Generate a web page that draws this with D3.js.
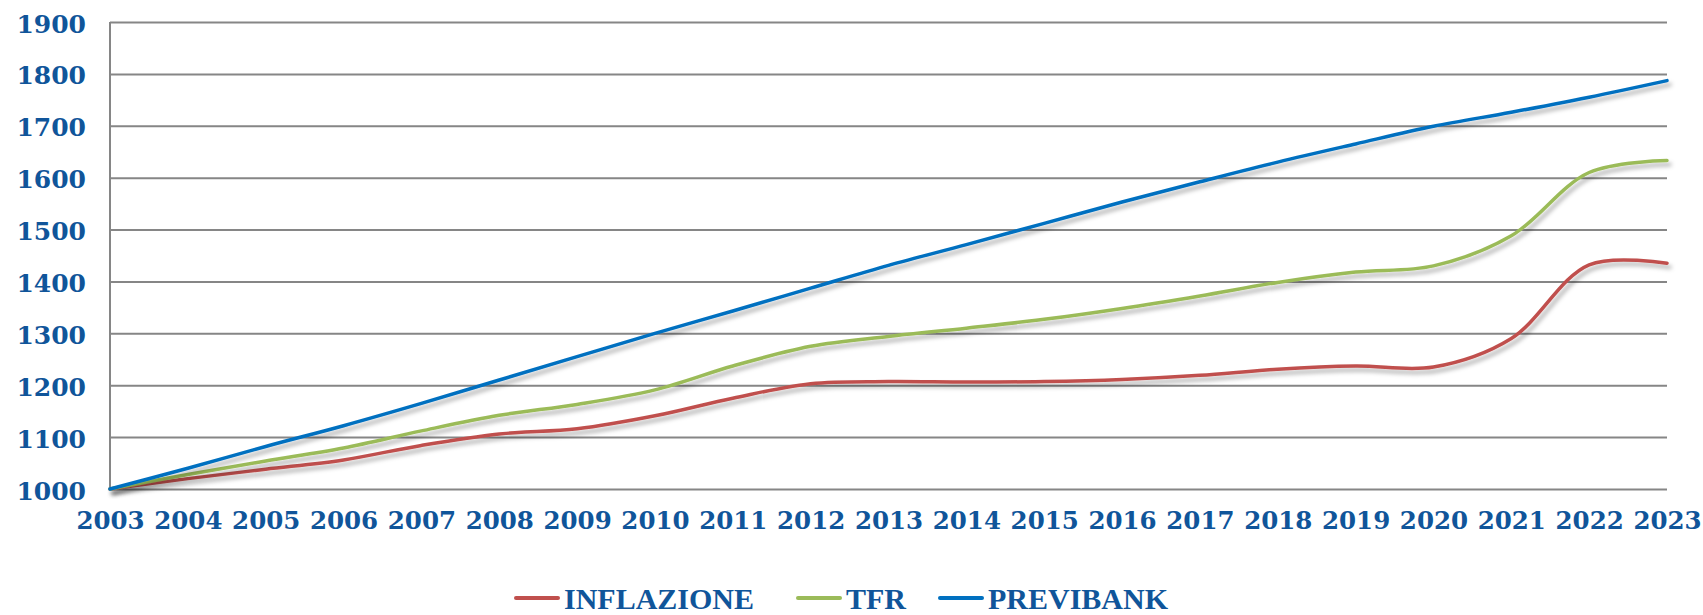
<!DOCTYPE html>
<html>
<head>
<meta charset="utf-8">
<script src="https://cdn.jsdelivr.net/npm/d3@7"></script>
<style>
    body { margin: 0; background: #ffffff; }
    svg { display: block; }
</style>
</head>
<body>
<div id="chart"></div>
<script>
"use strict"

//years on the x axis
const years = [2003, 2004, 2005, 2006, 2007, 2008, 2009, 2010, 2011, 2012, 2013,
    2014, 2015, 2016, 2017, 2018, 2019, 2020, 2021, 2022, 2023];

//values, 1000 invested in 2003
const inflazione = [1000, 1020, 1038, 1056, 1084, 1106, 1116, 1141, 1175, 1203, 1207,
    1206, 1207, 1211, 1219, 1231, 1237, 1235, 1290, 1432, 1435];
const tfr = [1000, 1028, 1054, 1079, 1112, 1142, 1163, 1191, 1237, 1275, 1294,
    1310, 1327, 1348, 1372, 1398, 1418, 1430, 1488, 1610, 1633];
const previbank = [1000, 1040, 1082, 1122, 1165, 1210, 1255, 1300, 1343, 1387, 1431,
    1471, 1512, 1553, 1592, 1630, 1665, 1699, 1726, 1755, 1787];

//y ticks
const y_ticks = [1000, 1100, 1200, 1300, 1400, 1500, 1600, 1700, 1800, 1900];

//series names and colors
const series_names = ['INFLAZIONE', 'TFR', 'PREVIBANK'];
const series_colors = ['#c0504d', '#9bbb59', '#0070c0'];

class LineChart {

    constructor(div_id) {
        let parent = this;

        parent.width = 1703;
        parent.height = 615;

        //plot area
        parent.left = 110;
        parent.right = 1667;
        parent.top = 22;
        parent.bottom = 489;

        parent.text_color = '#10559a';
        parent.grid_color = '#868686';

        parent.svg = d3.select('#' + div_id)
            .append('svg')
            .attr('width', parent.width)
            .attr('height', parent.height);
    }

    init(parent) {
        parent.x = d3.scalePoint()
            .domain(years)
            .range([parent.left, parent.right]);

        parent.y = d3.scaleLinear()
            .domain([1000, 1900])
            .range([parent.bottom, parent.top]);

        parent.make_shadow(parent);
        parent.draw_grid(parent);
        parent.draw_lines(parent);
        parent.draw_legend(parent);
    }

    //soft grey shadow under the lines, like the office chart
    make_shadow(parent) {
        const filter = parent.svg.append('defs')
            .append('filter')
            .attr('id', 'line_shadow')
            .attr('x', '-5%').attr('y', '-20%')
            .attr('width', '110%').attr('height', '140%');

        filter.append('feDropShadow')
            .attr('dx', 3)
            .attr('dy', 4)
            .attr('stdDeviation', 2.2)
            .attr('flood-color', '#000000')
            .attr('flood-opacity', 0.3);
    }

    draw_grid(parent) {
        //horizontal gridlines + y labels
        const y_axis = parent.svg.append('g')
            .attr('transform', 'translate(' + parent.left + ',0)')
            .call(d3.axisLeft(parent.y)
                .tickValues(y_ticks)
                .tickSize(-(parent.right - parent.left))
                .tickPadding(24)
                .tickFormat(d3.format('d')));

        y_axis.select('.domain').remove();
        y_axis.selectAll('.tick line')
            .attr('stroke', parent.grid_color)
            .attr('stroke-width', 2);
        y_axis.selectAll('.tick text')
            .attr('fill', parent.text_color)
            .attr('font-family', '"DejaVu Serif", serif')
            .attr('font-weight', 'bold')
            .attr('font-size', 25)
            .attr('dy', '0.4em');

        //vertical axis line on the left
        parent.svg.append('line')
            .attr('x1', parent.left).attr('x2', parent.left)
            .attr('y1', parent.y(1900)).attr('y2', parent.y(1000))
            .attr('stroke', parent.grid_color)
            .attr('stroke-width', 2);

        //x labels, no tick marks
        const x_axis = parent.svg.append('g')
            .attr('transform', 'translate(0,' + parent.bottom + ')')
            .call(d3.axisBottom(parent.x).tickSize(0).tickPadding(23));

        x_axis.select('.domain').remove();
        x_axis.selectAll('.tick text')
            .attr('fill', parent.text_color)
            .attr('font-family', '"DejaVu Serif", serif')
            .attr('font-weight', 'bold')
            .attr('font-size', 24.5);
    }

    draw_lines(parent) {
        const all_series = [inflazione, tfr, previbank];

        const line = d3.line()
            .x((d, i) => parent.x(years[i]))
            .y(d => parent.y(d))
            .curve(d3.curveCatmullRom.alpha(0.5));

        parent.svg.append('g')
            .selectAll('path')
            .data(all_series)
            .join('path')
            .attr('d', line)
            .attr('fill', 'none')
            .attr('stroke', (d, i) => series_colors[i])
            .attr('stroke-width', 3.5)
            .attr('stroke-linecap', 'round')
            .attr('filter', 'url(#line_shadow)');
    }

    draw_legend(parent) {
        //x start of each legend entry
        const entry_x = [516, 798, 940];
        const legend_y = 600;

        const entries = parent.svg.append('g')
            .selectAll('g')
            .data(series_names)
            .join('g')
            .attr('transform', (d, i) => 'translate(' + entry_x[i] + ',' + legend_y + ')');

        entries.append('line')
            .attr('x1', 0).attr('x2', 42)
            .attr('y1', -2).attr('y2', -2)
            .attr('stroke', (d, i) => series_colors[i])
            .attr('stroke-width', 4)
            .attr('stroke-linecap', 'round');

        entries.append('text')
            .attr('x', 48)
            .attr('y', 9)
            .attr('fill', parent.text_color)
            .attr('font-family', '"Liberation Serif", serif')
            .attr('font-weight', 'bold')
            .attr('font-size', 30)
            .text(d => d);
    }
}

const chart = new LineChart('chart');
chart.init(chart);
</script>
</body>
</html>
